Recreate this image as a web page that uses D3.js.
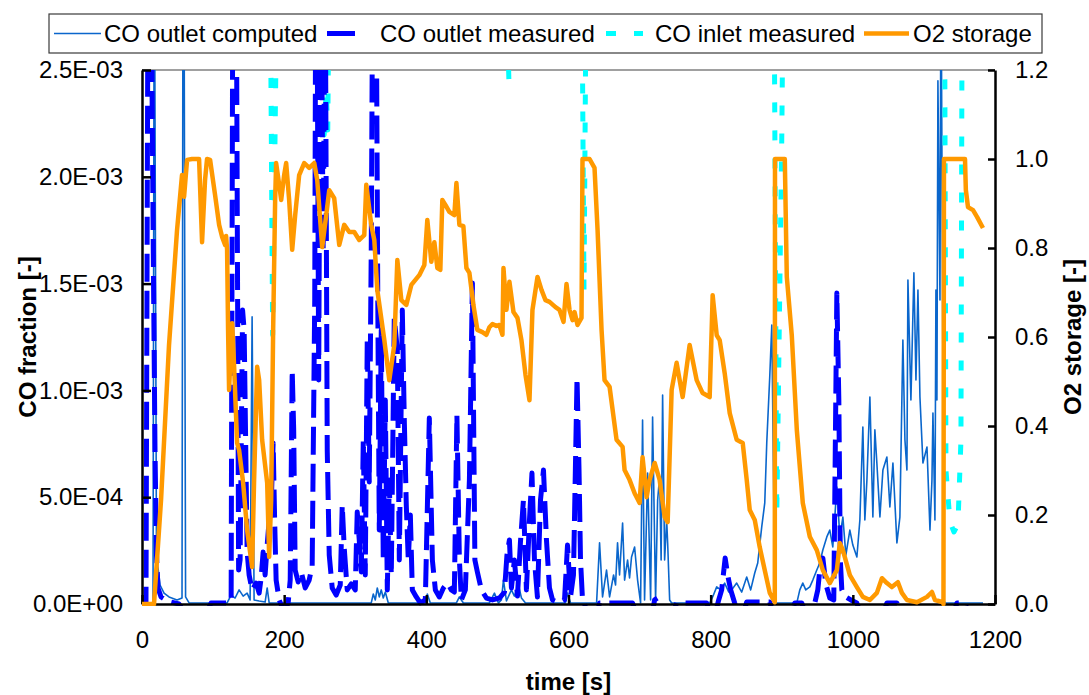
<!DOCTYPE html>
<html>
<head>
<meta charset="utf-8">
<script src="https://cdn.jsdelivr.net/npm/d3@7"></script>
<style>
  body { margin: 0; background: #fff; }
  svg { display: block; font-family: "Liberation Sans", Arial, sans-serif; }
</style>
</head>
<body>
<svg id="chart" width="1089" height="695"></svg>
<script>
// ---- data: [time s, value] ----
// CO fraction computed at the catalyst outlet
const coOutletComputed = [
  [0,0],[15.5,5e-6],[17.3,3.3e-3],[20.4,2.06e-4],[22.5,1.69e-4],[25.4,8.9e-5],[31.0,5.1e-5],[38.0,3.3e-5],
  [49.3,1.9e-5],[56.3,2.8e-5],[58.2,4.2e-3],[61.3,3.3e-5],[66.2,5e-6],[119.7,5e-6],[125.4,4.2e-5],[131.0,2.8e-5],
  [136.6,6.6e-5],[142.3,3.7e-5],[147.9,5.1e-5],[152.1,1.9e-5],[154.9,1.344e-3],[157.7,1.9e-5],[164.8,1.4e-5],
  [173.2,9e-6],[176.1,7.5e-5],[178.9,5e-6],[322.5,5e-6],[325.4,4.7e-5],[328.2,1.9e-5],[331.0,7.5e-5],[333.8,3.3e-5],
  [336.6,6.6e-5],[339.4,2.8e-5],[342.3,5.6e-5],[346.5,5e-6],[398.6,5e-6],[401.4,4.7e-5],[405.6,5e-6],[442.3,5e-6],
  [446.5,3.3e-5],[452.1,5e-6],[488.7,5e-6],[495.8,5.1e-5],[501.4,5e-6],[505.6,1.9e-5],[508.5,1.12e-4],[512.7,1.4e-5],
  [519.7,6.6e-5],[523.9,3.7e-5],[529.6,8.9e-5],[533.8,2.8e-5],[539.5,5e-6],[595.8,5e-6],[598.6,5.1e-5],[602.8,5e-6],
  [639.5,5e-6],[643.7,2.86e-4],[647.9,3.3e-5],[653.5,1.59e-4],[657.8,3.3e-5],[663.4,1.36e-4],[666.2,8.9e-5],
  [669.0,2.86e-4],[671.8,1.36e-4],[676.1,3.79e-4],[678.9,1.12e-4],[683.1,2.06e-4],[685.9,1.22e-4],[688.7,2.2e-4],
  [693.0,2.67e-4],[697.2,1.12e-4],[701.4,5e-6],[704.2,8.61e-4],[707.0,1.9e-5],[711.3,6.13e-4],[715.5,1.9e-5],
  [718.3,8.75e-4],[722.5,1.9e-5],[725.4,4.87e-4],[728.2,5.95e-4],[730.3,2.06e-4],[732.4,9.78e-4],[735.2,2.06e-4],
  [738.1,3.93e-4],[739.5,2.86e-4],[742.3,1.9e-5],[745.1,5e-6],[798.6,5e-6],[802.8,3.3e-5],[808.5,8.0e-5],
  [814.1,6.6e-5],[819.7,9.8e-5],[825.4,5.6e-5],[829.6,6.6e-5],[836.6,9.8e-5],[843.7,5.6e-5],[850.7,1.26e-4],
  [856.3,6.6e-5],[862.0,1.45e-4],[866.2,1.92e-4],[871.8,3.6e-4],[876.1,4.73e-4],[878.9,7.54e-4],[883.1,1.063e-3],
  [886.0,1.306e-3],[888.8,4.87e-4],[890.2,5e-6],[921.2,5e-6],[925.4,6.6e-5],[929.6,9.8e-5],[933.8,6.6e-5],
  [939.5,8.0e-5],[943.7,1.12e-4],[949.3,1.59e-4],[953.5,1.92e-4],[957.8,2.53e-4],[963.4,3.14e-4],[967.6,3.46e-4],
  [971.8,2.67e-4],[977.5,5.48e-4],[981.7,3.14e-4],[986.0,4.07e-4],[990.2,2.29e-4],[995.8,3.46e-4],[1000.0,2.76e-4],
  [1005.7,2.2e-4],[1009.9,3.93e-4],[1014.1,8.29e-4],[1016.9,3.93e-4],[1019.8,5.8e-4],[1024.0,9.69e-4],[1028.2,4.07e-4],
  [1031.0,8.15e-4],[1033.8,6.6e-4],[1038.1,4.07e-4],[1042.3,6.27e-4],[1047.9,6.88e-4],[1052.1,4.54e-4],[1056.4,6.6e-4],
  [1062.0,2.86e-4],[1066.2,4.07e-4],[1070.4,1.236e-3],[1073.3,7.68e-4],[1076.1,6.27e-4],[1077.5,1.517e-3],
  [1081.7,9.55e-4],[1085.9,1.55e-3],[1088.8,1.049e-3],[1091.6,1.47e-3],[1094.4,9.69e-4],[1098.6,6.6e-4],
  [1104.3,7.35e-4],[1108.5,3.46e-4],[1111.3,5.8e-4],[1112.7,8.94e-4],[1115.5,3.93e-4],[1116.9,1.47e-3],
  [1118.3,9.55e-4],[1119.7,2.45e-3],[1122.6,1.423e-3],[1124.0,3.06e-3],[1126.8,1.049e-3],[1128.2,1.9e-5],
  [1129.6,5e-6],[1183.1,5e-6]
];

// CO fraction measured at the catalyst outlet
const coOutletMeasured = [
  [0,-4.7e-5],[5.6,5e-6],[9.2,3.76e-3],[12.0,2.547e-3],[13.4,2.734e-3],[16.2,1.517e-3],[18.3,7.21e-4],
  [20.4,2.29e-4],[22.5,7.5e-5],[26.8,3.3e-5],[33.8,1.9e-5],[40.8,9e-6],[52.1,0],[59.2,-3.7e-5],[91.5,-3.7e-5],
  [97.2,5e-6],[122.5,5e-6],[125.4,1.9e-5],[128.2,3.53e-3],[131.7,3.76e-3],[134.5,1.423e-3],[135.9,1.59e-4],
  [138.0,2.06e-4],[141.5,1.376e-3],[143.7,1.283e-3],[145.8,7.68e-4],[147.9,2.43e-4],[150.7,1.36e-4],[154.9,6.6e-5],
  [160.6,9.8e-5],[164.8,5.1e-5],[167.6,1.22e-4],[170.4,2.43e-4],[173.2,1.36e-4],[176.1,2.76e-4],[178.9,3.93e-4],
  [181.7,4.63e-4],[184.5,7.54e-4],[186.6,3.93e-4],[188.7,1.12e-4],[193.0,1.9e-5],[200.0,-3.7e-5],[205.6,5e-6],
  [208.5,1.12e-4],[211.3,1.095e-3],[213.4,8.15e-4],[215.5,1.59e-4],[219.7,1.03e-4],[224.0,1.5e-4],[229.6,7.5e-5],
  [235.2,1.12e-4],[239.4,1.78e-4],[243.0,1.423e-3],[245.1,3.76e-3],[248.6,1.049e-3],[251.4,3.30e-3],[254.9,1.657e-3],
  [257.7,3.06e-3],[260.6,7.21e-4],[263.4,2.29e-4],[267.6,7.5e-5],[273.2,4.2e-5],[278.9,8.9e-5],[281.7,4.63e-4],
  [284.5,2.62e-4],[288.7,6.6e-5],[294.4,9.4e-5],[300.0,6.6e-5],[302.8,4.31e-4],[305.6,3.0e-4],[308.5,1.5e-4],
  [311.3,7.68e-4],[314.1,1.36e-4],[316.9,1.245e-3],[319.7,5.71e-4],[322.5,1.657e-3],[325.4,3.53e-3],[328.9,3.30e-3],
  [331.7,1.423e-3],[333.8,3.46e-4],[336.6,1.283e-3],[339.4,2.06e-4],[342.3,9.55e-4],[345.1,6.6e-5],[347.9,5.81e-4],
  [350.7,1.36e-4],[354.9,1.339e-3],[359.2,1.189e-3],[362.0,2.06e-4],[366.2,1.376e-3],[369.0,8.61e-4],[371.8,4.63e-4],
  [374.6,2.06e-4],[377.5,4.17e-4],[380.3,6.6e-5],[385.9,3.3e-5],[391.5,5e-6],[398.6,1.9e-5],[404.2,8.71e-4],
  [408.5,2.06e-4],[412.7,6.6e-5],[418.3,3.3e-5],[424.0,7.5e-5],[429.6,9.8e-5],[435.2,6.6e-5],[439.4,5.6e-5],
  [443.0,8.85e-4],[446.5,2.06e-4],[449.3,1.9e-5],[454.9,6.6e-5],[460.6,5.81e-4],[464.8,1.503e-3],[468.3,2.06e-4],
  [471.8,1.5e-4],[477.5,6.6e-5],[484.5,2.8e-5],[493.0,1.9e-5],[502.8,2.8e-5],[509.9,5.6e-5],[513.4,2.29e-4],
  [516.9,3.0e-4],[519.7,7.5e-5],[523.9,2.06e-4],[528.2,3.7e-5],[532.4,2.9e-4],[536.6,4.87e-4],[540.8,6.6e-5],
  [545.1,3.93e-4],[548.6,6.13e-4],[552.1,2.06e-4],[556.3,3.3e-5],[560.6,4.87e-4],[564.8,6.27e-4],[569.0,3.0e-4],
  [573.2,7.5e-5],[577.5,1.9e-5],[587.3,5e-6],[594.4,1.9e-5],[598.6,2.76e-4],[602.8,3.3e-5],[607.0,1.36e-4],
  [612.0,1.058e-3],[614.8,6.27e-4],[616.9,2.06e-4],[619.7,1.9e-5],[626.8,-3.7e-5],[640.9,-3.7e-5],[643.7,5e-6],
  [690.1,5e-6],[694.4,-3.7e-5],[718.3,-3.7e-5],[721.1,1.9e-5],[725.4,2.8e-5],[729.6,-3.7e-5],[747.9,-3.7e-5],
  [752.1,5e-6],[794.4,5e-6],[798.6,-3.7e-5],[807.0,-3.7e-5],[811.3,1.9e-5],[815.5,6.6e-5],[820.4,2.15e-4],
  [823.9,1.36e-4],[828.2,6.6e-5],[833.8,5e-6],[838.0,-3.7e-5],[846.5,-3.7e-5],[850.7,9e-6],[883.1,9e-6],
  [887.3,-3.7e-5],[914.1,-3.7e-5],[918.3,5e-6],[928.2,5e-6],[932.4,-3.7e-5],[942.3,-3.7e-5],[946.5,5e-6],
  [950.7,6.6e-5],[953.5,1.59e-4],[957.8,2.15e-4],[962.0,9.4e-5],[967.6,2.8e-5],[973.2,1.9e-5],[977.5,1.456e-3],
  [980.3,9.55e-4],[982.4,2.06e-4],[984.5,6.6e-5],[990.1,3.3e-5],[997.2,1.9e-5],[1005.6,5e-6],[1009.9,-3.7e-5],
  [1043.7,-3.7e-5],[1047.9,5e-6],[1062.0,5e-6],[1066.2,-3.7e-5],[1142.3,-3.7e-5],[1146.5,5e-6],[1157.8,5e-6],
  [1162.0,-3.7e-5],[1183.1,-3.7e-5]
];

// CO fraction measured at the catalyst inlet (mostly above the axis range)
const coInletMeasured = [
  [0,4.2e-3],[90,4.5e-3],[180.3,3.0e-3],[183.8,1.259e-3],[190.1,3.0e-3],[220,4.4e-3],
  [252.8,3.0e-3],[256.3,2.196e-3],[259.2,2.406e-3],[261.3,2.219e-3],[263.4,3.0e-3],[400,4.6e-3],
  [512.7,2.9e-3],[516.2,2.444e-3],[519.7,2.9e-3],[570,4.3e-3],
  [618.3,3.2e-3],[621.8,1.47e-3],[625.4,3.2e-3],[760,4.5e-3],
  [888.8,3.2e-3],[893.0,4.17e-4],[900.0,2.17e-3],[902.8,3.2e-3],[1010,4.4e-3],
  [1127.4,4.9e-3],[1131.0,6.27e-4],[1136.7,3.84e-4],[1142.3,3.37e-4],[1147.9,3.75e-4],[1152.1,7.68e-4],
  [1155.0,4.5e-3],[1183.1,4.8e-3]
];

// relative oxygen storage level of the catalyst
const o2Storage = [
  [0,0],[16.9,0],[26.8,0.234],[38.0,0.582],[49.3,0.84],[56.3,0.964],[59.2,0.915],[63.4,0.998],[70.4,1.0],[80.3,1.0],
  [84.5,0.813],[88.7,0.953],[91.5,1.0],[95.8,0.998],[102.8,0.919],[108.5,0.852],[112.7,0.825],[116.9,0.807],
  [118.3,0.827],[119.7,0.796],[121.1,0.616],[122.5,0.481],[125.4,0.593],[126.8,0.631],[129.6,0.533],[133.8,0.362],
  [136.6,0.346],[142.3,0.272],[147.9,0.166],[154.9,0.083],[157.7,0.279],[162.0,0.533],[164.8,0.503],[169.0,0.369],
  [176.1,0.272],[178.9,0.106],[181.7,0.234],[184.5,0.616],[187.3,0.908],[188.7,0.991],[193.0,0.942],[195.8,0.908],
  [200.0,0.964],[202.8,0.991],[207.0,0.908],[211.3,0.796],[215.5,0.874],[221.1,0.964],[228.2,0.991],[235.2,0.98],
  [242.3,0.991],[246.5,0.953],[253.5,0.802],[259.2,0.874],[263.4,0.93],[270.4,0.912],[277.5,0.807],[284.5,0.852],
  [291.6,0.836],[298.6,0.836],[305.6,0.818],[312.7,0.829],[315.5,0.942],[322.5,0.852],[326.8,0.818],[331.0,0.706],
  [340.9,0.593],[347.9,0.503],[354.9,0.582],[359.2,0.773],[364.8,0.683],[371.8,0.672],[378.9,0.717],[390.1,0.739],
  [397.2,0.762],[401.4,0.863],[407.0,0.769],[411.3,0.813],[415.5,0.755],[419.7,0.751],[422.5,0.908],[426.8,0.897],
  [432.4,0.881],[439.4,0.874],[442.3,0.946],[446.5,0.852],[452.1,0.849],[456.4,0.755],[460.6,0.744],[466.2,0.672],
  [471.8,0.616],[478.9,0.611],[484.5,0.605],[488.7,0.622],[493.0,0.629],[498.6,0.625],[502.8,0.627],[507.1,0.605],
  [508.5,0.755],[512.7,0.661],[516.9,0.724],[522.6,0.656],[528.2,0.643],[533.8,0.593],[539.5,0.515],[545.1,0.458],
  [549.3,0.661],[556.4,0.735],[562.0,0.706],[567.6,0.683],[573.3,0.679],[581.7,0.667],[587.3,0.661],[593.0,0.634],
  [597.2,0.719],[601.4,0.661],[605.7,0.638],[608.5,0.656],[612.7,0.627],[618.3,0.643],[619.7,1.0],[629.6,1.0],
  [636.6,0.98],[640.9,0.84],[646.5,0.616],[650.7,0.503],[657.8,0.488],[667.6,0.369],[676.1,0.353],[678.9,0.301],
  [685.9,0.279],[693.0,0.249],[700.0,0.227],[704.2,0.33],[709.9,0.24],[714.1,0.279],[721.2,0.317],[728.2,0.279],
  [735.2,0.196],[739.5,0.184],[745.1,0.481],[752.1,0.542],[760.6,0.465],[770.4,0.582],[780.3,0.503],[788.7,0.474],
  [798.6,0.465],[801.4,0.616],[802.8,0.694],[808.5,0.604],[812.7,0.593],[819.7,0.519],[826.8,0.429],[836.6,0.369],
  [845.1,0.362],[850.7,0.279],[855.0,0.211],[862.0,0.189],[869.0,0.128],[876.1,0.076],[883.1,0.025],[890.2,0.004],
  [890.5,1.0],[904.3,1.0],[907.1,0.735],[914.1,0.604],[921.2,0.391],[929.6,0.227],[939.5,0.151],[949.3,0.121],
  [957.8,0.076],[967.6,0.047],[977.5,0.076],[981.7,0.137],[986.0,0.121],[995.8,0.065],[1005.7,0.038],[1014.1,0.016],
  [1024.0,0.009],[1033.8,0.025],[1040.9,0.058],[1047.9,0.047],[1054.9,0.038],[1063.4,0.049],[1069.0,0.025],
  [1076.1,0.009],[1090.2,0.004],[1104.3,0.016],[1111.3,0.027],[1115.5,0.009],[1126.8,0.004],[1127.5,0.0],
  [1128.2,1.0],[1157.8,1.0],[1159.0,0.93],[1162.0,0.892],[1169.1,0.885],[1174.7,0.87],[1183.1,0.845]
];

const seriesNames = ["CO outlet computed", "CO outlet measured", "CO inlet measured", "O2 storage"];
const timeTicks = [0, 200, 400, 600, 800, 1000, 1200];
const coTicks = [0, 5e-4, 1e-3, 1.5e-3, 2e-3, 2.5e-3];
const coTickLabels = ["0.0E+00", "5.0E-04", "1.0E-03", "1.5E-03", "2.0E-03", "2.5E-03"];
const o2Ticks = [0, 0.2, 0.4, 0.6, 0.8, 1.0, 1.2];
const o2TickLabels = ["0.0", "0.2", "0.4", "0.6", "0.8", "1.0", "1.2"];

// ---- layout ----
const svg = d3.select("#chart");
const plot = { left: 142, right: 995, top: 70, bottom: 604 };
const FONT = 24;

const x = d3.scaleLinear().domain([0, 1200]).range([plot.left, plot.right]);
const yCO = d3.scaleLinear().domain([0, 2.5e-3]).range([plot.bottom, plot.top]);
const yO2 = d3.scaleLinear().domain([0, 1.2]).range([plot.bottom, plot.top]);

svg.append("defs").append("clipPath").attr("id", "plotClip")
  .append("rect")
  .attr("x", plot.left).attr("y", plot.top)
  .attr("width", plot.right - plot.left).attr("height", plot.bottom - plot.top + 2);

// top frame edge
svg.append("line")
  .attr("x1", plot.left).attr("x2", plot.right)
  .attr("y1", plot.top).attr("y2", plot.top)
  .attr("stroke", "#a0a0a0").attr("stroke-width", 2);

const lineCO = d3.line().x(d => x(d[0])).y(d => yCO(d[1]));
const lineO2 = d3.line().x(d => x(d[0])).y(d => yO2(d[1]));

const series = svg.append("g").attr("clip-path", "url(#plotClip)");

const styles = {
  computed: { stroke: "#0a66cc", width: 1.6, dash: null },
  measured: { stroke: "#0000ff", width: 5, dash: "28,9" },
  inlet:    { stroke: "#00ffff", width: 5, dash: "10,18" },
  o2:       { stroke: "#ff9900", width: 4.5, dash: null }
};

function drawPath(g, data, gen, st) {
  g.append("path")
    .datum(data)
    .attr("fill", "none")
    .attr("stroke", st.stroke)
    .attr("stroke-width", st.width)
    .attr("stroke-linejoin", "round")
    .attr("stroke-dasharray", st.dash)
    .attr("d", gen);
}

drawPath(series, coOutletComputed, lineCO, styles.computed);
drawPath(series, coInletMeasured, lineCO, styles.inlet);
drawPath(series, coOutletMeasured, lineCO, styles.measured);

// ---- axes ----
function styleAxis(g) {
  g.attr("font-family", null).attr("font-size", null);
  g.select(".domain").attr("stroke", "#000").attr("stroke-width", 2.5);
  g.selectAll(".tick line").attr("stroke", "#000").attr("stroke-width", 2.5);
  g.selectAll(".tick text").attr("fill", "#000").style("font-size", FONT + "px");
}

svg.append("g")
  .attr("transform", `translate(${plot.left},0)`)
  .call(d3.axisLeft(yCO).tickValues(coTicks).tickFormat((d, i) => coTickLabels[i])
    .tickSizeInner(-9).tickSizeOuter(0).tickPadding(19))
  .call(styleAxis);

svg.append("g")
  .attr("transform", `translate(${plot.right},0)`)
  .call(d3.axisRight(yO2).tickValues(o2Ticks).tickFormat((d, i) => o2TickLabels[i])
    .tickSizeInner(-7).tickSizeOuter(0).tickPadding(20))
  .call(styleAxis);

svg.append("g")
  .attr("transform", `translate(0,${plot.bottom})`)
  .call(d3.axisBottom(x).tickValues(timeTicks).tickFormat(d3.format("d"))
    .tickSizeInner(-9).tickSizeOuter(0).tickPadding(27))
  .call(styleAxis);

// O2 storage sits on top of the axis lines
const o2Layer = svg.append("g").attr("clip-path", "url(#plotClip)");
drawPath(o2Layer, o2Storage, lineO2, styles.o2);

// ---- axis titles ----
svg.append("text")
  .attr("x", (plot.left + plot.right) / 2).attr("y", 690)
  .attr("text-anchor", "middle").attr("font-weight", "bold").attr("font-size", FONT)
  .text("time [s]");

svg.append("text")
  .attr("transform", `translate(36,${(plot.top + plot.bottom) / 2}) rotate(-90)`)
  .attr("text-anchor", "middle").attr("font-weight", "bold").attr("font-size", FONT)
  .text("CO fraction [-]");

svg.append("text")
  .attr("transform", `translate(1081,${(plot.top + plot.bottom) / 2}) rotate(-90)`)
  .attr("text-anchor", "middle").attr("font-weight", "bold").attr("font-size", FONT)
  .text("O2 storage [-]");

// ---- legend ----
const legend = svg.append("g");
legend.append("rect")
  .attr("x", 49).attr("y", 14).attr("width", 993).attr("height", 39)
  .attr("fill", "#fff").attr("stroke", "#3a3a3a").attr("stroke-width", 1.2);

const legendItems = [
  { name: seriesNames[0], st: styles.computed, x1: 54, x2: 101, tx: 104 },
  { name: seriesNames[1], st: styles.measured, x1: 327, x2: 361, tx: 380 },
  { name: seriesNames[2], st: styles.inlet, x1: 606, x2: 643, tx: 655 },
  { name: seriesNames[3], st: styles.o2, x1: 864, x2: 909, tx: 913 }
];
const legendY = 33.5;
legendItems.forEach(it => {
  legend.append("line")
    .attr("x1", it.x1).attr("x2", it.x2).attr("y1", legendY).attr("y2", legendY)
    .attr("stroke", it.st.stroke).attr("stroke-width", it.st.width)
    .attr("stroke-dasharray", it.st.dash);
  legend.append("text")
    .attr("x", it.tx).attr("y", legendY + 8.5)
    .attr("font-size", FONT).attr("fill", "#000")
    .text(it.name);
});
</script>
</body>
</html>
